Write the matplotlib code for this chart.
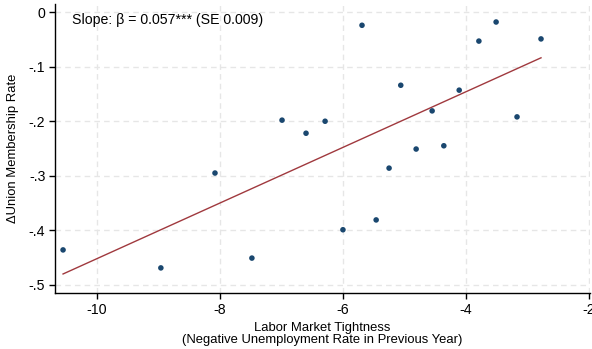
import numpy as np
import matplotlib
matplotlib.use("Agg")
import matplotlib.pyplot as plt
from matplotlib.ticker import FixedLocator, FuncFormatter

plt.rcParams['font.family'] = ['Liberation Sans', 'DejaVu Sans']
plt.rcParams['axes.unicode_minus'] = False

# negative unemployment rate in previous year vs change in union membership rate
tightness = [-10.55, -8.96, -8.08, -7.48, -6.99, -6.60, -6.29, -6.00, -5.69, -5.46,
             -5.25, -5.06, -4.81, -4.55, -4.36, -4.11, -3.79, -3.51, -3.17, -2.78]
union_change = [-0.436, -0.469, -0.295, -0.451, -0.198, -0.222, -0.200, -0.399, -0.024, -0.381,
                -0.286, -0.134, -0.251, -0.181, -0.245, -0.143, -0.053, -0.018, -0.192, -0.049]

x_ticks = [-10, -8, -6, -4, -2]
y_ticks = [0, -0.1, -0.2, -0.3, -0.4, -0.5]
y_labels = ["0", "-.1", "-.2", "-.3", "-.4", "-.5"]
slope_text = "Slope: \u03b2 = 0.057*** (SE 0.009)"

x = np.array(tightness)
y = np.array(union_change)
b, a = np.polyfit(x, y, 1)
xfit = np.array([x.min(), x.max()])

fig = plt.figure(figsize=(5.92, 3.49), dpi=100)
ax = fig.add_axes([0.093, 0.1605, 0.904, 0.828])

ax.plot(xfit, a + b * xfit, color='#a0393e', lw=1.0, zorder=2)
ax.scatter(x, y, s=16, color='#1a476f', edgecolors='none', zorder=3)

ax.set_xlim(-10.68, -1.98)
ax.set_ylim(-0.515, 0.015)
ax.xaxis.set_major_locator(FixedLocator(x_ticks))
ax.xaxis.set_major_formatter(FuncFormatter(lambda v, p: f"{v:g}"))
ax.set_yticks(y_ticks)
ax.set_yticklabels(y_labels)

ax.grid(True, color='#e6e6e6', ls=(0, (4, 3)), lw=1.0, zorder=0)
ax.set_axisbelow(True)
for side in ['top', 'right']:
    ax.spines[side].set_visible(False)
for side in ['left', 'bottom']:
    ax.spines[side].set_linewidth(1.0)
ax.tick_params(direction='out', length=4, width=1.0, labelsize=10.2, pad=3)

ax.set_xlabel("Labor Market Tightness\n(Negative Unemployment Rate in Previous Year)",
              fontsize=9.4, linespacing=1.0, labelpad=4)
ax.set_ylabel("\u0394Union Membership Rate", fontsize=9.4, labelpad=7)

ax.text(0.032, 0.945, slope_text, transform=ax.transAxes, fontsize=10.2, va='center', ha='left')

fig.savefig("out.png", dpi=100, facecolor='white')
